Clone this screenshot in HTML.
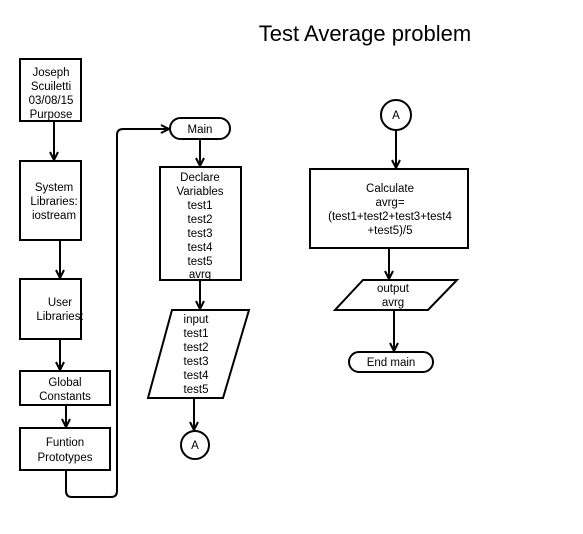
<!DOCTYPE html>
<html><head><style>body{margin:0;background:#fff}svg{display:block}text{font-family:"Liberation Sans",Arial,sans-serif;font-size:11.5px;text-anchor:middle}</style></head><body>
<svg width="583" height="534" viewBox="0 0 583 534">
<defs><marker id="a" markerWidth="10" markerHeight="10" refX="9" refY="5" orient="auto" markerUnits="userSpaceOnUse"><path d="M1,1 L9,5 L1,9" fill="none" stroke="#000" stroke-width="2"/></marker></defs>
<g fill="#fff" stroke="#000" stroke-width="2">
<rect x="20" y="59" width="61" height="62"/>
<rect x="20" y="161" width="61" height="79"/>
<rect x="20" y="279" width="61" height="60"/>
<rect x="20" y="371" width="90" height="34"/>
<rect x="20" y="428" width="90" height="42"/>
<rect x="170" y="118" width="60" height="21" rx="10.5"/>
<rect x="160" y="167" width="81" height="113"/>
<polygon points="172,310 249,310 223,398 148,398"/>
<circle cx="195" cy="445" r="14"/>
<circle cx="396" cy="115" r="15"/>
<rect x="310" y="169" width="158" height="79"/>
<polygon points="363,280 457,280 428,310 335,310"/>
<rect x="349" y="352" width="84" height="20" rx="10"/>
</g>
<g fill="none" stroke="#000" stroke-width="2" marker-end="url(#a)">
<line x1="54" y1="121" x2="54" y2="160"/>
<line x1="60" y1="240" x2="60" y2="278"/>
<line x1="60" y1="339" x2="60" y2="370"/>
<line x1="66" y1="405" x2="66" y2="427"/>
<path d="M66,470 V491 Q66,497 72,497 H111 Q117,497 117,491 V135 Q117,129 123,129 H169"/>
<line x1="200" y1="139" x2="200" y2="166"/>
<line x1="200" y1="280" x2="200" y2="309"/>
<line x1="194" y1="398" x2="194" y2="430"/>
<line x1="396" y1="130" x2="396" y2="168"/>
<line x1="389" y1="248" x2="389" y2="279"/>
<line x1="394" y1="310" x2="394" y2="351"/>
</g>
<text x="365" y="41" style="font-size:22px">Test Average problem</text>
<text x="51" y="76">Joseph</text><text x="51" y="90">Scuiletti</text><text x="51" y="104">03/08/15</text><text x="51" y="118">Purpose</text>
<text x="54" y="191">System</text><text x="54" y="205">Libraries:</text><text x="54" y="219">iostream</text>
<text x="60" y="306">User</text><text x="60" y="320">Libraries:</text>
<text x="65" y="386">Global</text><text x="65" y="400">Constants</text>
<text x="65" y="446">Funtion</text><text x="65" y="461">Prototypes</text>
<text x="200" y="133">Main</text>
<text x="200" y="181">Declare</text><text x="200" y="195">Variables</text><text x="200" y="209">test1</text><text x="200" y="223">test2</text><text x="200" y="237">test3</text><text x="200" y="251">test4</text><text x="200" y="265">test5</text><text x="200" y="278">avrg</text>
<text x="196" y="323">input</text><text x="196" y="337">test1</text><text x="196" y="351">test2</text><text x="196" y="365">test3</text><text x="196" y="379">test4</text><text x="196" y="393">test5</text>
<text x="195" y="449">A</text>
<text x="396" y="119">A</text>
<text x="390" y="192">Calculate</text><text x="390" y="206">avrg=</text><text x="390" y="220">(test1+test2+test3+test4</text><text x="390" y="234">+test5)/5</text>
<text x="393" y="292">output</text><text x="393" y="306">avrg</text>
<text x="391" y="366">End main</text>
</svg></body></html>
